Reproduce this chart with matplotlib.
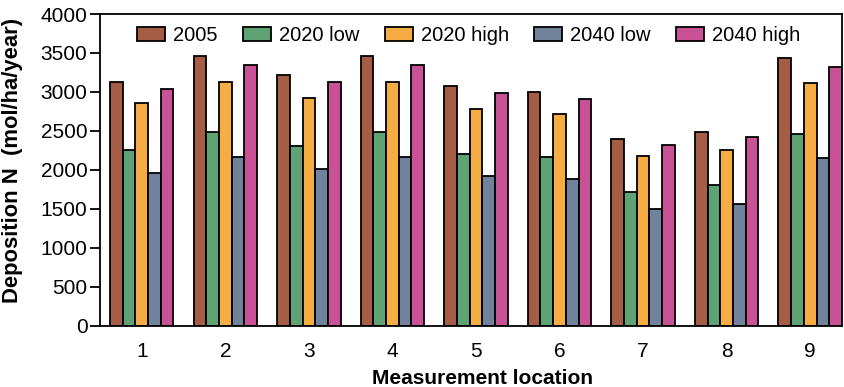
import numpy as np
import matplotlib.pyplot as plt

plt.rcParams['font.family'] = ['Liberation Sans', 'DejaVu Sans']

locations = ['1', '2', '3', '4', '5', '6', '7', '8', '9']
series = ['2005', '2020 low', '2020 high', '2040 low', '2040 high']
dep_2005 = [3130, 3460, 3220, 3460, 3070, 3000, 2395, 2490, 3430]
dep_2020_low = [2255, 2490, 2310, 2490, 2205, 2165, 1720, 1800, 2460]
dep_2020_high = [2855, 3130, 2920, 3130, 2785, 2715, 2180, 2260, 3110]
dep_2040_low = [1960, 2165, 2015, 2165, 1925, 1880, 1500, 1560, 2150]
dep_2040_high = [3040, 3350, 3125, 3350, 2980, 2905, 2325, 2420, 3325]
colors = ['#A65D45', '#5FA273', '#F5AD44', '#71839C', '#C85295']

values = [dep_2005, dep_2020_low, dep_2020_high, dep_2040_low, dep_2040_high]

fig = plt.figure(figsize=(8.45, 3.87), dpi=100)
ax = fig.add_axes([0.1183, 0.1584, 0.9964 - 0.1183, 0.9638 - 0.1584])

x = np.arange(1, len(locations) + 1)
w = 0.152
for i, (name, vals) in enumerate(zip(series, values)):
    ax.bar(x + (i - 2) * w, vals, w, color=colors[i], edgecolor='black',
           linewidth=1.3, label=name)

ax.set_xlim(0.5, 9.38)
ax.set_ylim(0, 4000)
ax.set_yticks(np.arange(0, 4001, 500))
ax.set_xticks(x)
ax.set_xticklabels(locations)
ax.tick_params(axis='y', direction='out', length=7, width=1.3, labelsize=15, pad=2)
ax.tick_params(axis='x', length=0, labelsize=15, pad=12)
for s in ax.spines.values():
    s.set_linewidth(1.3)

ax.set_ylabel('Deposition N  (mol/ha/year)', fontsize=15.8, fontweight='bold')
ax.set_xlabel('Measurement location', fontsize=15, fontweight='bold')
ax.yaxis.set_label_coords(-0.104, 0.53)
ax.xaxis.set_label_coords(0.515, -0.138)

ax.legend(loc='upper center', ncol=5, frameon=False, fontsize=14.5,
          handlelength=1.4, handleheight=0.7, handletextpad=0.4,
          columnspacing=1.25, bbox_to_anchor=(0.497, 1.02))

fig.savefig('out.png', dpi=100)
